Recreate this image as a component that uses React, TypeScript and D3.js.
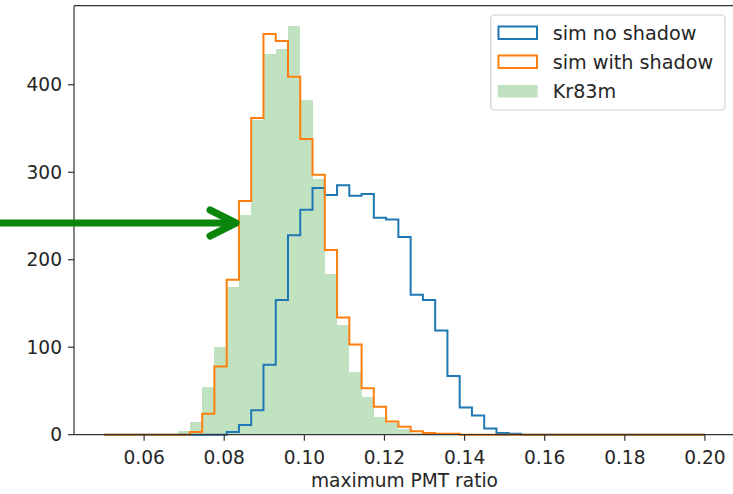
import React from "react";
import * as d3 from "d3";

// bin edges: 50 edges from 0.05 to 0.20 (49 bins)
const binStart = 0.05;
const binEnd = 0.2;
const edgeCount = 50;

const noShadow = [
  0, 0, 0, 0, 0, 0, 0, 0, 0, 0,
  3, 11, 28, 80, 154, 228, 257, 282, 274, 285,
  273, 275, 248, 246, 226, 160, 154, 119, 67, 31,
  22, 7, 2, 1, 0, 0, 0, 0, 0, 0,
  0, 0, 0, 0, 0, 0, 0, 0, 0,
];
const withShadow = [
  0, 0, 0, 0, 0, 0, 0, 3, 24, 78,
  177, 267, 362, 458, 450, 409, 338, 297, 211, 134,
  103, 53, 32, 15, 9, 4, 2, 1, 1, 0,
  0, 0, 0, 0, 0, 0, 0, 0, 0, 0,
  0, 0, 0, 0, 0, 0, 0, 0, 0,
];
const kr83m = [
  0, 0, 0, 0, 0, 1, 4, 15, 54, 100,
  169, 251, 360, 435, 441, 467, 383, 292, 184, 125,
  72, 43, 20, 13, 6, 2, 1, 0, 0, 0,
  0, 0, 0, 0, 0, 0, 0, 0, 0, 0,
  0, 0, 0, 0, 0, 0, 0, 0, 0,
];

const xTicks = [0.06, 0.08, 0.1, 0.12, 0.14, 0.16, 0.18, 0.2];
const yTicks = [0, 100, 200, 300, 400];
const legendLabels = ["sim no shadow", "sim with shadow", "Kr83m"];
const xLabel = "maximum PMT ratio";

const W = 733;
const H = 494;
const left = 74;
const right = 735;
const top = 5.7;
const bottom = 434.7;

const FONT = "'DejaVu Sans', Verdana, sans-serif";
const BLUE = "#1f77b4";
const ORANGE = "#ff7f0e";
const GREEN_FILL = "#c0e2c0";
const AXIS = "#333";

export default function App() {
  React.useEffect(() => {
    document.body.style.margin = "0";
  }, []);

  const edges = d3.range(edgeCount).map((i) => binStart + ((binEnd - binStart) * i) / (edgeCount - 1));
  const span = binEnd - binStart;
  const x = d3.scaleLinear().domain([binStart - 0.05 * span, binEnd + 0.05 * span]).range([left, right]);
  const ymax = 1.05 * (d3.max([...noShadow, ...withShadow, ...kr83m]) as number);
  const y = d3.scaleLinear().domain([0, ymax]).range([bottom, top]);

  const stepPath = (vals: number[]) => {
    const pts: [number, number][] = [[x(edges[0]), y(0)]];
    vals.forEach((v, i) => {
      pts.push([x(edges[i]), y(v)]);
      pts.push([x(edges[i + 1]), y(v)]);
    });
    pts.push([x(edges[edges.length - 1]), y(0)]);
    return d3.line()(pts) as string;
  };

  const fontTick = 18.6;

  return (
    <svg width={W} height={H} style={{ position: "absolute", left: 0, top: 0, background: "#fff" }}>
      <rect x={0} y={0} width={W} height={H} fill="#fff" />
      {/* green bars */}
      {kr83m.map((v, i) =>
        v > 0 ? (
          <rect
            key={i}
            x={x(edges[i])}
            y={y(v)}
            width={x(edges[i + 1]) - x(edges[i])}
            height={y(0) - y(v)}
            fill={GREEN_FILL}
            shapeRendering="crispEdges"
          />
        ) : null
      )}
      <path d={stepPath(noShadow)} fill="none" stroke={BLUE} strokeWidth={2} strokeLinejoin="miter" />
      <path d={stepPath(withShadow)} fill="none" stroke={ORANGE} strokeWidth={2} strokeLinejoin="miter" />

      {/* spines */}
      <line x1={left} x2={left} y1={top} y2={bottom} stroke={AXIS} strokeWidth={1.2} />
      <line x1={left} x2={W} y1={bottom} y2={bottom} stroke={AXIS} strokeWidth={1.2} />
      <line x1={left} x2={W} y1={top} y2={top} stroke={AXIS} strokeWidth={1.2} />
      <line x1={right} x2={right} y1={top} y2={bottom} stroke={AXIS} strokeWidth={1.2} />

      {/* x ticks */}
      {xTicks.map((t) => (
        <g key={t}>
          <line x1={x(t)} x2={x(t)} y1={bottom} y2={bottom + 6} stroke={AXIS} strokeWidth={1.2} />
          <text x={x(t)} y={463.5} textAnchor="middle" fontFamily={FONT} fontSize={fontTick} fill="#262626">
            {t.toFixed(2)}
          </text>
        </g>
      ))}
      {/* y ticks */}
      {yTicks.map((t) => (
        <g key={t}>
          <line x1={left - 6} x2={left} y1={y(t)} y2={y(t)} stroke={AXIS} strokeWidth={1.2} />
          <text x={left - 12} y={y(t)} dy="0.36em" textAnchor="end" fontFamily={FONT} fontSize={fontTick} fill="#262626">
            {t}
          </text>
        </g>
      ))}
      <text x={(left + right) / 2} y={487} textAnchor="middle" fontFamily={FONT} fontSize={fontTick} fill="#262626">
        {xLabel}
      </text>

      {/* legend */}
      <rect x={490.7} y={15} width={234.3} height={95} rx={4} fill="#fff" fillOpacity={0.8} stroke="#d0d0d0" strokeWidth={1.2} />
      <rect x={498.5} y={26.5} width={38.5} height={12.5} fill="none" stroke={BLUE} strokeWidth={2} />
      <rect x={498.5} y={55.5} width={38.5} height={12.5} fill="none" stroke={ORANGE} strokeWidth={2} />
      <rect x={497.7} y={85} width={40} height={12.5} fill={GREEN_FILL} />
      {legendLabels.map((l, i) => (
        <text key={l} x={552.7} y={32.6 + i * 29.3} dy="0.36em" fontFamily={FONT} fontSize={19.2} fill="#262626">
          {l}
        </text>
      ))}

      {/* annotation arrow */}
      <g stroke="#0a870a" strokeWidth={7} strokeLinecap="round" strokeLinejoin="round" fill="none">
        <line x1={-5} y1={223} x2={234} y2={223} />
        <polyline points="210,210 236,223 210,236" />
      </g>
    </svg>
  );
}
